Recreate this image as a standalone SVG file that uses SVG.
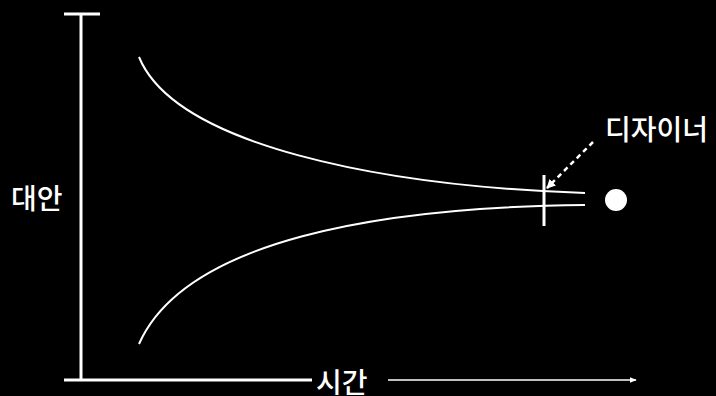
<svg xmlns="http://www.w3.org/2000/svg" width="716" height="396" viewBox="0 0 716 396">
<defs>
<style>
.ln{stroke:#fff;fill:none;stroke-width:3}
.cv{stroke:#fff;fill:none;stroke-width:2}
.lb{fill:#fff;font-family:"Noto Sans CJK KR","Noto Sans",sans-serif;font-size:28px;font-weight:500}
</style>
<marker id="ah" viewBox="0 0 10 10" refX="9" refY="5" markerWidth="7" markerHeight="7" orient="auto" markerUnits="userSpaceOnUse">
<path d="M0,1 L10,5 L0,9 z" fill="#fff"/>
</marker>
<marker id="ah2" viewBox="0 0 10 10" refX="9" refY="5" markerWidth="9" markerHeight="9" orient="auto" markerUnits="userSpaceOnUse">
<path d="M0,0 L10,5 L0,10 z" fill="#fff"/>
</marker>
</defs>
<rect width="716" height="396" fill="#000"/>
<g id="axes">
<line class="ln" x1="81" y1="14" x2="81" y2="380"/>
<line class="ln" x1="64" y1="14" x2="100" y2="14"/>
<line class="ln" x1="64" y1="380" x2="312" y2="380"/>
<line x1="388" y1="380" x2="636" y2="380" stroke="#fff" stroke-width="1.6" marker-end="url(#ah)"/>
</g>
<g id="label-alternatives"><text class="lb" x="11" y="209">대안</text></g>
<g id="label-time"><text class="lb" x="316" y="393">시간</text></g>
<g id="label-designer"><text class="lb" x="605" y="140">디자이너</text></g>
<g id="curves">
<path class="cv" d="M139,57 C175,145 380,186 585,193"/>
<path class="cv" d="M139,344 C185,240 380,207 585,205"/>
</g>
<g id="crossing">
<line class="ln" x1="544" y1="175" x2="544" y2="226"/>
</g>
<g id="designer-dot"><circle cx="616" cy="200" r="11" fill="#fff"/></g>
<g id="connectors">
<line x1="593" y1="142" x2="547" y2="188" stroke="#fff" stroke-width="2.5" stroke-dasharray="5,4" marker-end="url(#ah2)"/>
</g>
</svg>
